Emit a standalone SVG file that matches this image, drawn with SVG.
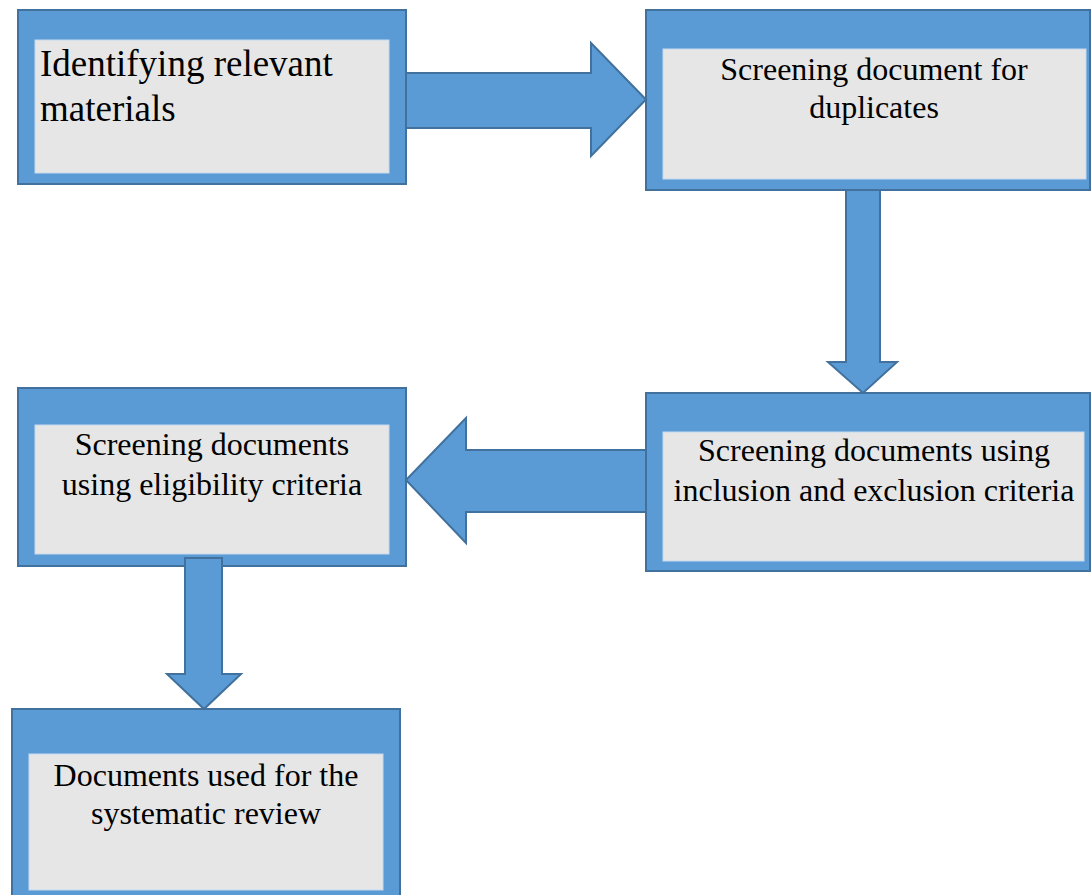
<svg xmlns="http://www.w3.org/2000/svg" width="1091" height="895" viewBox="0 0 1091 895">
<style>
.outer{fill:#5B9BD5;stroke:#41719C;stroke-width:2}
.inner{fill:#E6E6E6;stroke:#C5DAEE;stroke-width:1}
.arrow{fill:#5B9BD5;stroke:#41719C;stroke-width:2;stroke-linejoin:miter}
.t{font-family:"Liberation Serif","Times New Roman",serif;font-size:32px;fill:#000;text-anchor:middle}
.big{font-family:"Liberation Serif","Times New Roman",serif;font-size:37px;fill:#000}
</style>
<rect width="1091" height="895" fill="#fff"/>
<g id="node-identify">
<rect class="outer" x="18" y="10" width="388" height="174"/>
<rect class="inner" x="35" y="40" width="354" height="133"/>
<text class="big" x="40" y="76">Identifying relevant</text>
<text class="big" x="40" y="121">materials</text>
</g>
<g id="node-duplicates">
<rect class="outer" x="646" y="10" width="444" height="180"/>
<rect class="inner" x="663" y="49" width="423" height="130"/>
<text class="t" x="874" y="80">Screening document for</text>
<text class="t" x="874" y="118">duplicates</text>
</g>
<g id="node-inclusion">
<rect class="outer" x="646" y="393" width="444" height="178"/>
<rect class="inner" x="663" y="432" width="421" height="129"/>
<text class="t" x="874" y="461">Screening documents using</text>
<text class="t" x="874" y="501">inclusion and exclusion criteria</text>
</g>
<g id="node-eligibility">
<rect class="outer" x="18" y="388" width="388" height="178"/>
<rect class="inner" x="35" y="425" width="354" height="129"/>
<text class="t" x="212" y="455">Screening documents</text>
<text class="t" x="212" y="495">using eligibility criteria</text>
</g>
<g id="node-final">
<rect class="outer" x="12" y="709" width="388" height="200"/>
<rect class="inner" x="29" y="754" width="354" height="136"/>
<text class="t" x="206" y="786">Documents used for the</text>
<text class="t" x="206" y="824">systematic review</text>
</g>
<g id="connectors">
<polygon class="arrow" points="406,73 591,73 591,43 646,99.5 591,156 591,128 406,128"/>
<polygon class="arrow" points="846,190 880,190 880,362 897,362 863,393 828,362 846,362"/>
<polygon class="arrow" points="646,450 466,450 466,418 406,480 466,543 466,512 646,512"/>
<polygon class="arrow" points="185,558 222,558 222,674 241,674 204,709 167,674 185,674"/>
</g>
</svg>
